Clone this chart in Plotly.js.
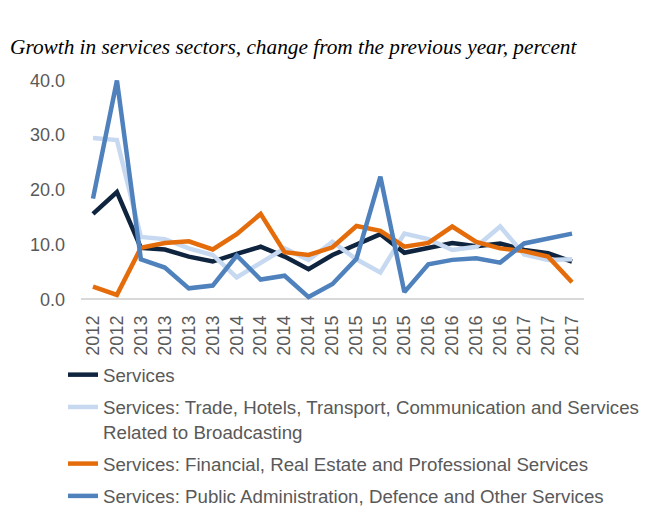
<!DOCTYPE html>
<html>
<head>
<meta charset="utf-8">
<script src="https://cdn.plot.ly/plotly-3.0.1.min.js"></script>
<style>html,body{margin:0;padding:0;background:#fff;}#chart{width:657px;height:506px;}</style>
</head>
<body>
<div id="chart"></div>
<script>
const periods = ["2012","2012","2013","2013","2013","2013","2014","2014","2014","2014","2015","2015","2015","2015","2016","2016","2016","2016","2017","2017","2017"];
const services = [15.6,19.6,9.4,9.1,7.8,6.9,8.3,9.6,7.8,5.5,8.1,9.9,11.9,8.5,9.3,10.3,9.7,10.2,9.0,8.4,6.9];
const trade = [29.5,29.1,11.4,11.0,9.3,8.1,4.0,6.6,9.3,7.2,10.5,7.3,4.9,12.0,11.0,9.0,9.6,13.3,8.2,7.2,7.3];
const financial = [2.3,0.8,9.4,10.3,10.6,9.1,11.9,15.6,8.6,8.1,9.5,13.4,12.5,9.6,10.3,13.3,10.5,9.3,8.8,7.8,3.1];
const publicAdmin = [18.4,40.0,7.3,5.8,2.0,2.5,8.0,3.6,4.3,0.4,2.8,7.4,22.4,1.3,6.4,7.2,7.5,6.7,10.2,11.1,12.0];
const yTicks = [0,10,20,30,40];

const idx = periods.map((_, i) => i);
const seriesNames = [
  "Services",
  "Services: Trade, Hotels, Transport, Communication and Services<br>Related to Broadcasting",
  "Services: Financial, Real Estate and Professional Services",
  "Services: Public Administration, Defence and Other Services"
];
const seriesData = [services, trade, financial, publicAdmin];
const colors = ["#0f243e", "#c6d9f1", "#e46c0a", "#4f81bd"];

const traces = seriesData.map((d, k) => ({
  type: "scatter",
  mode: "lines",
  x: idx,
  y: d,
  name: seriesNames[k],
  legendgroup: "g" + k,
  line: {color: colors[k], width: 4.5},
  hoverinfo: "skip"
}));

const W = 657, H = 506;
const mL = 81, mR = 73, mT = 75, mB = 204;
const pw = W - mL - mR, ph = H - mT - mB;

const layout = {
  width: W,
  height: H,
  margin: {l: mL, r: mR, t: mT, b: mB, autoexpand: false},
  paper_bgcolor: "#ffffff",
  plot_bgcolor: "#ffffff",
  font: {family: "Liberation Sans, Arial, sans-serif", color: "#595959", size: 18},
  title: {
    text: "<i>Growth in services sectors, change from the previous year, percent</i>",
    font: {family: "Liberation Serif, Times New Roman, serif", size: 21.3, color: "#000000"},
    x: 10 / W, xanchor: "left", xref: "container",
    y: 1 - 47 / H, yanchor: "middle", yref: "container"
  },
  xaxis: {
    range: [-0.5, 20.5],
    tickmode: "array",
    tickvals: idx,
    ticktext: periods,
    tickangle: -90,
    showgrid: false,
    zeroline: false,
    showline: false,
    ticks: "",
    automargin: false,
    ticklabelstandoff: 9,
    tickfont: {size: 18, color: "#595959"},
    fixedrange: true
  },
  yaxis: {
    range: [-0.5, 41],
    tickmode: "array",
    tickvals: yTicks,
    tickformat: ".1f",
    showgrid: false,
    zeroline: true,
    zerolinecolor: "#d9d9d9",
    zerolinewidth: 2,
    showline: false,
    ticks: "",
    automargin: false,
    ticklabelstandoff: 15,
    tickfont: {size: 18, color: "#595959"},
    fixedrange: true
  },
  showlegend: true,
  legend: {
    x: (63 - mL) / pw, xanchor: "left",
    y: (H - mB - 356) / ph, yanchor: "top",
    orientation: "v",
    traceorder: "grouped",
    tracegroupgap: 5,
    valign: "top",
    font: {size: 18.7, color: "#595959"},
    bgcolor: "rgba(0,0,0,0)"
  }
};

Plotly.newPlot("chart", traces, layout, {displayModeBar: false, staticPlot: true});
</script>
</body>
</html>
